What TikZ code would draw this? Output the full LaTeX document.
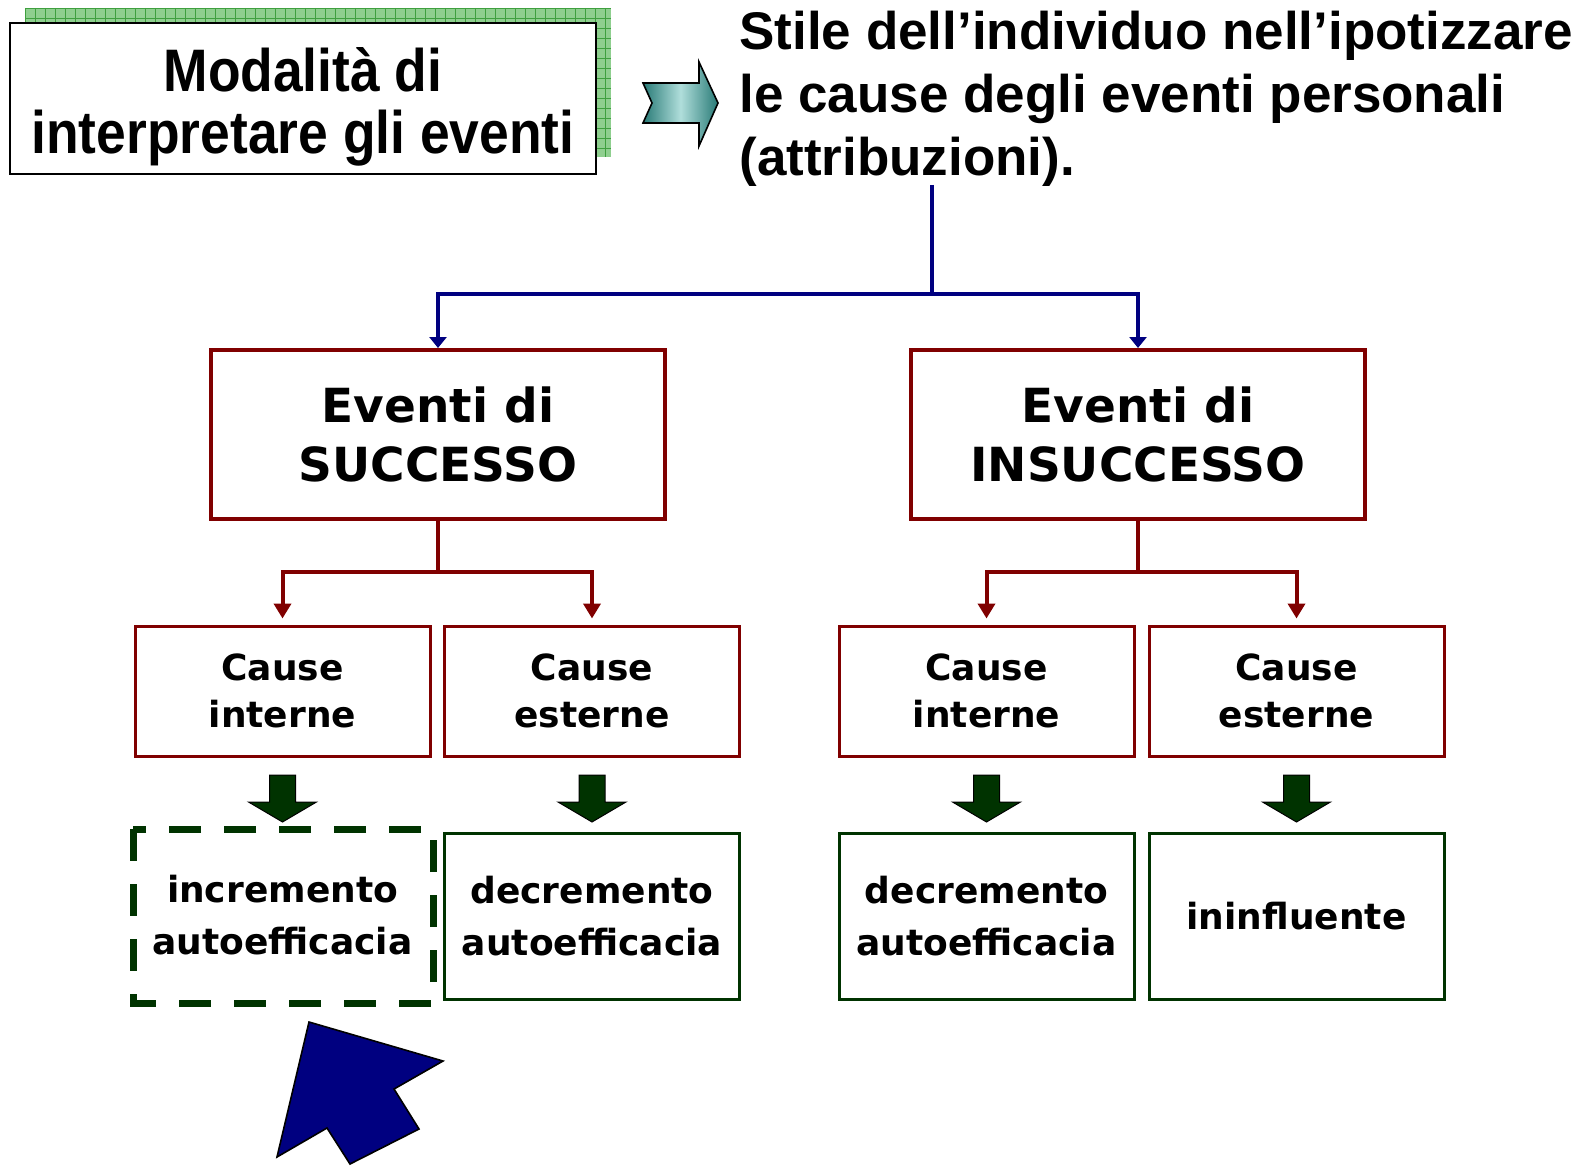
\documentclass[tikz,border=0pt]{standalone}
\usepackage{fontspec}
\setmainfont{DejaVu Sans}
\newfontfamily\arialb{Liberation Sans}[BoldFont=* Bold]
\newfontfamily\narrowb{Liberation Sans}[BoldFont=* Bold, BoldFeatures={FakeStretch=0.89}]
\usetikzlibrary{arrows.meta}
\definecolor{dkred}{HTML}{800000}
\definecolor{navyb}{HTML}{000080}
\definecolor{dkgreen}{HTML}{003300}
\definecolor{gridgreen}{HTML}{8FCF8F}
\definecolor{gridline}{HTML}{3FA03F}
\definecolor{tealdk}{HTML}{287A76}
\definecolor{teallt}{HTML}{B0DEDB}
\tikzset{
  evbox/.style={draw=dkred, line width=2pt, fill=white, minimum width=227pt, minimum height=84.5pt, align=center, inner sep=0pt, font=\bfseries\fontsize{23.5}{29.5}\selectfont},
  causebox/.style={draw=dkred, line width=1.5pt, fill=white, minimum width=147.5pt, minimum height=65pt, align=center, inner sep=0pt, font=\bfseries\fontsize{18}{23.5}\selectfont},
  resbox/.style={draw=dkgreen, line width=1.5pt, fill=white, minimum width=147.5pt, minimum height=83pt, align=center, inner sep=0pt, font=\bfseries\fontsize{18}{26}\selectfont},
  bluearr/.style={draw=navyb, line width=1.7pt, -{Triangle[width=8.5pt,length=5.5pt]}},
  blueline/.style={draw=navyb, line width=1.7pt},
  redarr/.style={draw=dkred, line width=2pt, -{Triangle[width=8.5pt,length=7.5pt]}},
  redline/.style={draw=dkred, line width=2pt},
  garrow/.pic={\filldraw[fill=dkgreen, draw=black, line width=0.5pt, line join=miter]
     (-13,0) -- (13,0) -- (13,27) -- (34,27) -- (0,47) -- (-34,27) -- (-13,27) -- cycle;}
}
\begin{document}
\begin{tikzpicture}[x=0.5pt, y=-0.5pt]
\useasboundingbox (0,0) rectangle (1583,1166);
% green hatched shadow
\fill[gridgreen] (25,8) rectangle (611,157);
\begin{scope}
\clip (25,8) rectangle (611,157);
\foreach \i in {0,...,60} {\draw[gridline, line width=0.4pt] (25+\i*10,8) -- (25+\i*10,157);}
\foreach \j in {0,...,15} {\draw[gridline, line width=0.4pt] (25,8+\j*10) -- (611,8+\j*10);}
\end{scope}
% top-left box
\node[draw=black, line width=1pt, fill=white, minimum width=293pt, minimum height=75.5pt, inner sep=0pt] (mod) at (303,98.5) {};
\node[inner sep=0pt, align=center, font=\narrowb\bfseries\fontsize{30}{31}\selectfont] (modt) at ([yshift=-4pt]mod.center) {Modalità di\\interpretare gli eventi};
% teal arrow
\shadedraw[left color=tealdk, right color=tealdk, middle color=teallt, draw=black, line width=0.8pt, line join=miter]
  (643,83) -- (699,83) -- (699,62) -- (718,103) -- (699,146) -- (699,123) -- (643,123) -- (652,103) -- cycle;
% title
\node[anchor=west, align=left, inner sep=0pt, font=\arialb\bfseries\fontsize{26.5}{31.5}\selectfont] (title) at (739,99)
 {Stile dell’individuo nell’ipotizzare\\le cause degli eventi personali\\(attribuzioni).};
\coordinate (tb) at (932,185);
\coordinate (jb) at (932,294);
% event boxes
\node[evbox] (ev1) at (438,434.5) {Eventi di\\SUCCESSO};
\node[evbox] (ev2) at (1138,434.5) {Eventi di\\INSUCCESSO};
\draw[blueline] (tb) -- (jb);
\draw[bluearr] (jb) -| (ev1.north);
\draw[bluearr] (jb) -| (ev2.north);
% cause boxes
\node[causebox] (c1) at (282.5,691) {Cause\\interne};
\node[causebox] (c2) at (592,691) {Cause\\esterne};
\node[causebox] (c3) at (986.5,691) {Cause\\interne};
\node[causebox] (c4) at (1296.5,691) {Cause\\esterne};
\coordinate (j1) at (ev1.south |- 0,572);
\coordinate (j2) at (ev2.south |- 0,572);
\draw[redline] (ev1.south) -- (j1);
\draw[redline] (ev2.south) -- (j2);
\draw[redarr, shorten >=3pt] (j1) -| (c1.north);
\draw[redarr, shorten >=3pt] (j1) -| (c2.north);
\draw[redarr, shorten >=3pt] (j2) -| (c3.north);
\draw[redarr, shorten >=3pt] (j2) -| (c4.north);
% result boxes
\node[resbox, draw=none] (r1) at (282.5,915) {incremento\\autoefficacia};
\draw[dkgreen, line width=3.5pt, dash pattern=on 16pt off 11.5pt] (133,829) rectangle (433,1003);
\node[resbox] (r2) at (592,916) {decremento\\autoefficacia};
\node[resbox] (r3) at (986.5,916) {decremento\\autoefficacia};
\node[resbox] (r4) at (1296.5,916) {ininfluente};
% green block arrows
\pic at (c1.south |- 0,775) {garrow};
\pic at (c2.south |- 0,775) {garrow};
\pic at (c3.south |- 0,775) {garrow};
\pic at (c4.south |- 0,775) {garrow};
% big blue arrow
\filldraw[fill=navyb, draw=black, line width=0.8pt, line join=miter]
  (309,1022) -- (443,1061) -- (394,1089) -- (419,1129) -- (350,1164) -- (327,1128) -- (277,1157) -- cycle;
\end{tikzpicture}
\end{document}
